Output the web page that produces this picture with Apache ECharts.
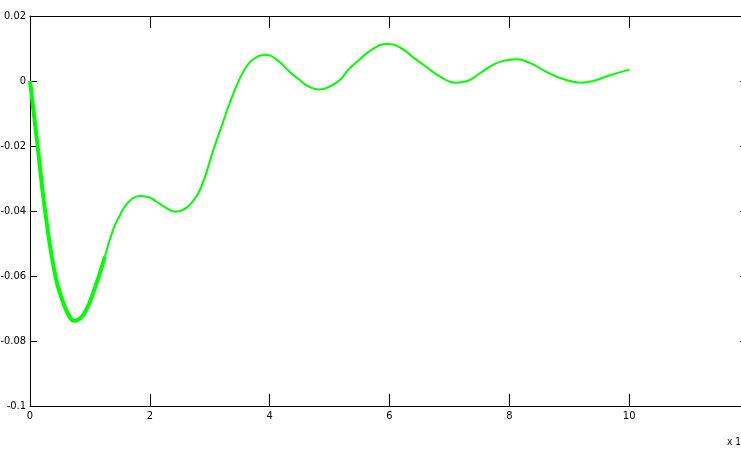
<!DOCTYPE html>
<html>
<head>
<meta charset="utf-8">
<script src="https://cdn.jsdelivr.net/npm/echarts@6/dist/echarts.min.js"></script>
<style>html,body{margin:0;padding:0;background:#fff;}#c{width:741px;height:449px;}</style>
</head>
<body>
<div id="c"></div>
<script>
// Thick initial segment (t, value)
var tThick = [0, 0.125, 0.25, 0.42, 0.55, 0.65, 0.74, 0.85, 0.95, 1.03, 1.15, 1.25];
var vThick = [0, -0.0197, -0.0397, -0.0597, -0.0680, -0.0722, -0.0738, -0.0728, -0.0700, -0.0664, -0.0600, -0.0540];
// Thin remaining segment
var tThin = [1.25, 1.39, 1.5, 1.58, 1.7, 1.83, 1.95, 2.1, 2.25, 2.42, 2.55, 2.7, 2.85, 3.06, 3.2, 3.33, 3.47, 3.61, 3.75, 3.93, 4.1, 4.33, 4.5, 4.65, 4.83, 5.0, 5.17, 5.33, 5.5, 5.7, 5.96, 6.2, 6.4, 6.61, 6.85, 7.1, 7.3, 7.5, 7.72, 7.9, 8.11, 8.35, 8.61, 8.9, 9.19, 9.4, 9.65, 9.94, 10];
var vThin = [-0.0540, -0.0456, -0.0413, -0.0387, -0.0363, -0.0354, -0.0356, -0.0370, -0.0388, -0.0402, -0.0397, -0.0374, -0.0330, -0.0212, -0.0138, -0.0069, -0.0005, 0.0044, 0.0070, 0.0080, 0.0068, 0.0029, 0.0003, -0.0017, -0.0026, -0.0017, 0.0003, 0.0038, 0.0066, 0.0096, 0.0114, 0.0100, 0.0072, 0.0044, 0.0013, -0.0005, 0.0000, 0.0023, 0.0049, 0.0062, 0.0067, 0.0055, 0.0029, 0.0006, -0.0005, 0.0000, 0.0016, 0.0032, 0.0034];
var xTicks = [0, 2, 4, 6, 8, 10, 12];
var yTicks = [0.02, 0, -0.02, -0.04, -0.06, -0.08, -0.1];

function pairs(t, v) { return t.map(function (x, i) { return [x, v[i]]; }); }

var font = "'Liberation Sans Narrow', 'DejaVu Sans Condensed', 'Liberation Sans', sans-serif";
var chart = echarts.init(document.getElementById('c'), null, { renderer: 'canvas' });
function axisCommon(tickLen) {
  return {
    axisLine: { show: true, onZero: false, lineStyle: { color: '#000', width: 1 } },
    axisTick: { show: true, inside: true, length: tickLen, lineStyle: { color: '#000', width: 1 } },
    splitLine: { show: false }
  };
}
chart.setOption({
  animation: false,
  backgroundColor: '#fff',
  grid: { left: 30, top: 16, width: 719, height: 390, containLabel: false, outerBoundsMode: 'none' },
  xAxis: [
    Object.assign({
      type: 'value', position: 'bottom', min: xTicks[0], max: xTicks[xTicks.length - 1], interval: 2,
      axisLabel: { color: '#000', fontSize: 11, fontFamily: font, margin: 5 }
    }, axisCommon(12)),
    Object.assign({
      type: 'value', position: 'top', min: xTicks[0], max: xTicks[xTicks.length - 1], interval: 2,
      axisLabel: { show: false }
    }, axisCommon(12))
  ],
  yAxis: [
    Object.assign({
      type: 'value', position: 'left', min: yTicks[yTicks.length - 1], max: yTicks[0], interval: 0.02,
      axisLabel: { color: '#000', fontSize: 11, fontFamily: font, margin: 4,
        formatter: function (v) { return String(Math.round(v * 100) / 100); } }
    }, axisCommon(7)),
    Object.assign({
      type: 'value', position: 'right', min: yTicks[yTicks.length - 1], max: yTicks[0], interval: 0.02,
      axisLabel: { show: false }
    }, axisCommon(9))
  ],
  series: [
    { type: 'line', data: pairs(tThick, vThick), smooth: 0.5, showSymbol: false, symbol: 'none',
      lineStyle: { color: '#00ff00', width: 4 } },
    { type: 'line', data: pairs(tThin, vThin), smooth: 0.5, showSymbol: false, symbol: 'none',
      lineStyle: { color: '#00ff00', width: 2 } }
  ],
  graphic: [
    { type: 'text', left: 727, top: 437, style: { text: 'x 10', fill: '#000', font: '10px ' + font } }
  ]
});
</script>
</body>
</html>
